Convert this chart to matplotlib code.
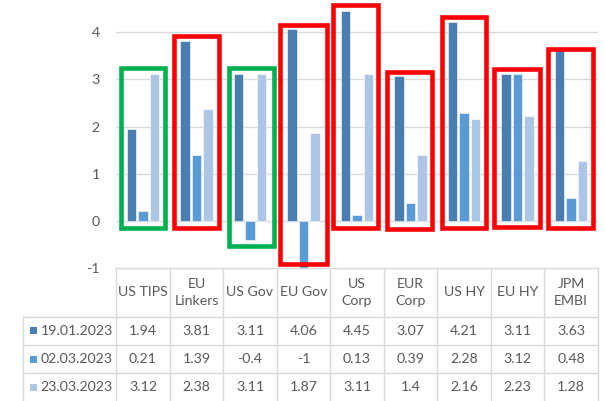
"""Bond index spreads by segment, three snapshot dates, with data table."""
import matplotlib.pyplot as plt
from matplotlib.patches import Rectangle
import numpy as np

plt.rcParams["font.family"] = ["Lato", "DejaVu Sans"]
plt.rcParams["axes.unicode_minus"] = False

categories = ["US TIPS", "EU\nLinkers", "US Gov", "EU Gov", "US\nCorp",
              "EUR\nCorp", "US HY", "EU HY", "JPM\nEMBI"]
dates = ["19.01.2023", "02.03.2023", "23.03.2023"]
jan19 = [1.94, 3.81, 3.11, 4.06, 4.45, 3.07, 4.21, 3.11, 3.63]
mar02 = [0.21, 1.39, -0.4, -1, 0.13, 0.39, 2.28, 3.12, 0.48]
mar23 = [3.12, 2.38, 3.11, 1.87, 3.11, 1.4, 2.16, 2.23, 1.28]
series = [jan19, mar02, mar23]

# highlight frames: (category, left, right, bottom, top, colour)
GREEN, RED = "#00B050", "#FF0000"
frames = [
    (0, -0.41, 0.41, -0.15, 3.24, GREEN),
    (1, -0.42, 0.42, -0.15, 3.93, RED),
    (2, -0.40, 0.44, -0.54, 3.24, GREEN),
    (3, -0.43, 0.43, -0.92, 4.15, RED),
    (4, -0.45, 0.39, -0.15, 4.57, RED),
    (5, -0.43, 0.41, -0.16, 3.15, RED),
    (6, -0.42, 0.42, -0.15, 4.32, RED),
    (7, -0.43, 0.42, -0.12, 3.23, RED),
    (8, -0.43, 0.41, -0.15, 3.64, RED),
]

colors = ["#4A7EB1", "#5B9BD5", "#ADC6E6"]
text_c = "#595959"
line_c = "#D9D9D9"
fs = 10.2

W, H = 605, 401
cat_px = 53.5          # pixel width of one category
plot_l, plot_r = 116.25, 597.75
zero_y, unit_px = 221.0, 47.17
ymin, ymax = -1, 4.6
table_l = 22.7
label_w = (plot_l - table_l) / cat_px

fig = plt.figure(figsize=(W / 100, H / 100), dpi=100)

# chart area
bot_px = zero_y - ymin * unit_px
top_px = zero_y - ymax * unit_px
ax = fig.add_axes([plot_l / W, (H - bot_px) / H,
                   (plot_r - plot_l) / W, (bot_px - top_px) / H])
x = np.arange(len(categories))
width, step = 0.175, 0.217
for k, vals in enumerate(series):
    ax.bar(x + (k - 1) * step, vals, width, color=colors[k],
           edgecolor="white", linewidth=0.4, zorder=2)

for cat, l, r, b, t, c in frames:
    ax.add_patch(Rectangle((cat + l, b), r - l, t - b, fill=False,
                           edgecolor=c, linewidth=3.3, clip_on=False, zorder=3))

ax.set_xlim(-0.5, len(categories) - 0.5)
ax.set_ylim(ymin, ymax)
ax.set_yticks(range(-1, 5))
ax.set_xticks([])
for y in range(0, 5):
    ax.axhline(y, color=line_c, linewidth=1.0, zorder=1)
ax.tick_params(axis="y", length=0, pad=12, labelsize=fs, labelcolor=text_c)
for s in ax.spines.values():
    s.set_visible(False)

# data table below the chart
tbl_h = H - bot_px
tx = fig.add_axes([table_l / W, 0, (plot_r - table_l) / W, tbl_h / H])
tx.set_xlim(-0.5 - label_w, len(categories) - 0.5)
tx.set_ylim(tbl_h, 0)
tx.axis("off")

head_h, row_h = 48.4, 28.3
left = -0.5 - label_w
right = len(categories) - 0.5
kw = dict(color=line_c, linewidth=1.0, clip_on=False)
tx.plot([-0.5, right], [0, 0], **kw)
for i in range(len(categories) + 1):
    tx.plot([i - 0.5, i - 0.5], [0, tbl_h], **kw)
tx.plot([left, left], [head_h, tbl_h], **kw)
for r in range(len(series)):
    y = head_h + r * row_h
    tx.plot([left, right], [y, y], **kw)

for i, name in enumerate(categories):
    tx.text(i, head_h / 2, name, ha="center", va="center", fontsize=fs,
            color=text_c, linespacing=1.45)

sq = 7.0
for r, (date, vals) in enumerate(zip(dates, series)):
    yc = head_h + (r + 0.5) * row_h
    tx.add_patch(Rectangle((left + 7.3 / cat_px, yc - sq / 2), sq / cat_px, sq,
                           color=colors[r], linewidth=0))
    tx.text(left + 18 / cat_px, yc, date, ha="left", va="center",
            fontsize=fs, color=text_c)
    for i, v in enumerate(vals):
        tx.text(i, yc, f"{v:g}", ha="center", va="center", fontsize=fs,
                color=text_c)

fig.savefig("out.png", dpi=100)
